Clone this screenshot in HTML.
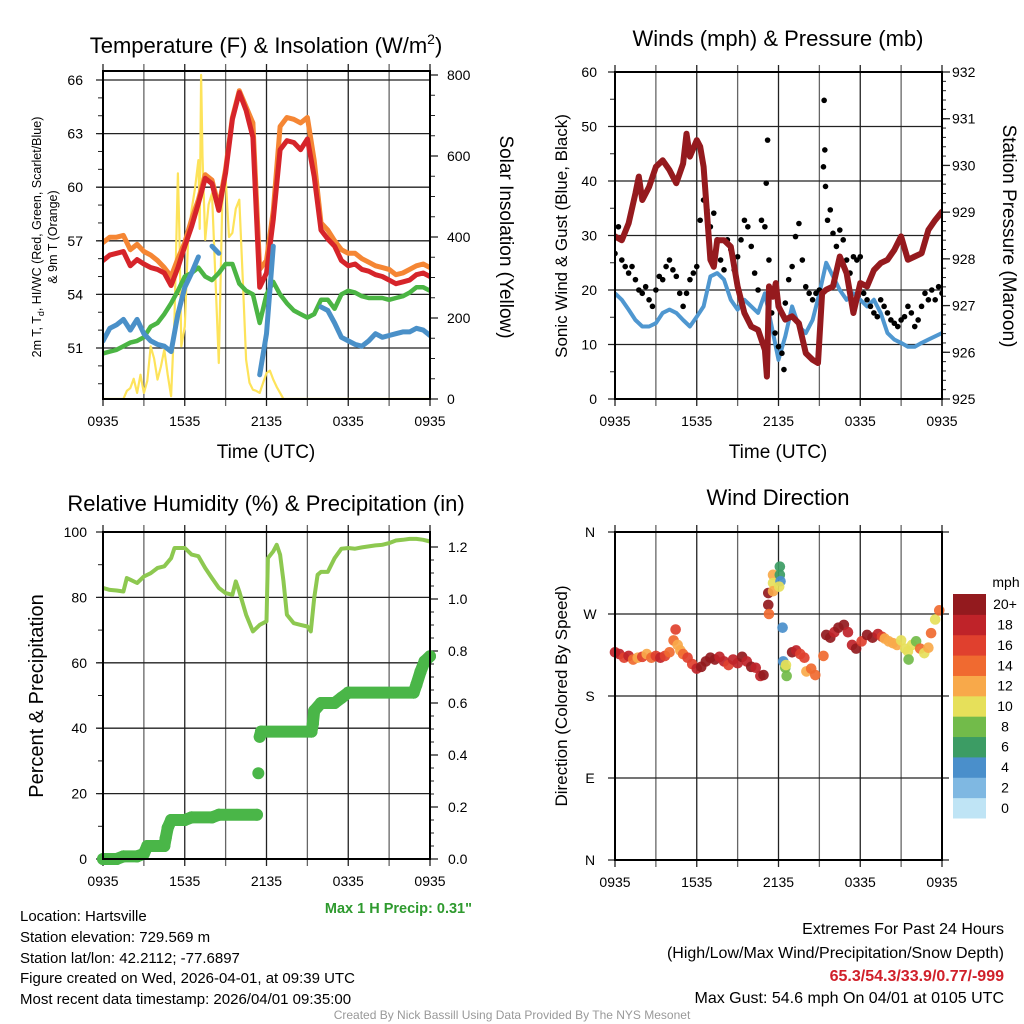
<!DOCTYPE html>
<html><head><meta charset="utf-8"><style>
html,body{margin:0;padding:0;background:#fff}
svg{display:block;font-family:"Liberation Sans",sans-serif}
</style></head><body>
<svg id="fig" width="1024" height="1024" viewBox="0 0 1024 1024" xmlns="http://www.w3.org/2000/svg">
<rect x="0" y="0" width="1024" height="1024" fill="#fff"/>
<text x="266" y="53" font-size="22" text-anchor="middle">Temperature (F) &amp; Insolation (W/m<tspan font-size="14" dy="-9">2</tspan><tspan dy="9">)</tspan></text>
<text x="778" y="46" font-size="22" text-anchor="middle">Winds (mph) &amp; Pressure (mb)</text>
<text x="266" y="511" font-size="22" text-anchor="middle">Relative Humidity (%) &amp; Precipitation (in)</text>
<text x="778" y="505" font-size="22" text-anchor="middle">Wind Direction</text>
<text transform="translate(41,237) rotate(-90)" font-size="12.5" text-anchor="middle">2m T, T<tspan font-size="9" dy="3">d</tspan><tspan dy="-3">, HI/WC (Red, Green, Scarlet/Blue)</tspan></text>
<text transform="translate(57,237) rotate(-90)" font-size="12.5" text-anchor="middle">&amp; 9m T (Orange)</text>
<text transform="translate(500,237) rotate(90)" font-size="19" text-anchor="middle">Solar Insolation (Yellow)</text>
<text x="266" y="458" font-size="19" text-anchor="middle">Time (UTC)</text>
<text x="778" y="458" font-size="19" text-anchor="middle">Time (UTC)</text>
<text transform="translate(567,236) rotate(-90)" font-size="17" text-anchor="middle">Sonic Wind &amp; Gust (Blue, Black)</text>
<text transform="translate(1003,236) rotate(90)" font-size="19" text-anchor="middle">Station Pressure (Maroon)</text>
<text transform="translate(43,696) rotate(-90)" font-size="20" text-anchor="middle">Percent &amp; Precipitation</text>
<text transform="translate(567,696) rotate(-90)" font-size="17" text-anchor="middle">Direction (Colored By Speed)</text>
<text x="472" y="913" font-size="14.5" font-weight="bold" fill="#2e9a2e" text-anchor="end">Max 1 H Precip: 0.31"</text>
<g font-size="15">
<text x="20" y="921">Location: Hartsville</text>
<text x="20" y="942">Station elevation: 729.569 m</text>
<text x="20" y="963">Station lat/lon: 42.2112; -77.6897</text>
<text x="20" y="983">Figure created on Wed, 2026-04-01, at 09:39 UTC</text>
<text x="20" y="1004">Most recent data timestamp: 2026/04/01 09:35:00</text>
</g>
<g font-size="16" text-anchor="end">
<text x="1004" y="934">Extremes For Past 24 Hours</text>
<text x="1004" y="958">(High/Low/Max Wind/Precipitation/Snow Depth)</text>
<text x="1004" y="981" fill="#d0202a" font-weight="bold">65.3/54.3/33.9/0.77/-999</text>
<text x="1004" y="1003">Max Gust: 54.6 mph On 04/01 at 0105 UTC</text>
</g>
<text x="512" y="1019" font-size="12" fill="#999" text-anchor="middle">Created By Nick Bassill Using Data Provided By The NYS Mesonet</text>
</svg>
<script>
// ---------- data ----------
const hours = [0,0.5,1,1.5,2,2.5,3,3.5,4,4.5,5,5.5,6,6.5,7,7.5,8,8.5,9,9.5,10,10.5,11,11.5,12,12.5,13,13.5,14,14.5,15,15.5,16,16.5,17,17.5,18,18.5,19,19.5,20,20.5,21,21.5,22,22.5,23,23.5,24];
const timeTickLabels = ["0935","1535","2135","0335","0935"];
const temp9m = [56.9,57.2,57.2,57.3,56.5,56.8,56.4,56.2,55.9,55.5,55.0,56.0,56.9,58.2,59.3,60.7,60.4,58.9,61.0,63.9,65.4,64.5,63.6,55.4,55.9,58.7,63.4,63.9,63.8,63.6,63.9,61.5,58.0,57.6,57.0,56.5,56.3,56.3,56.0,55.8,55.6,55.5,55.4,55.1,55.2,55.4,55.6,55.7,55.5];
const temp2m = [55.9,56.2,56.3,56.4,55.6,55.95,55.7,55.5,55.4,55.2,54.5,55.5,56.7,57.8,59.1,60.5,60.2,58.7,60.8,63.8,65.3,64.3,62.8,54.4,55.2,58.2,62.1,62.6,62.5,62.1,62.7,60.6,57.6,57.1,56.7,55.9,55.6,55.7,55.4,55.3,55.1,55.0,54.8,54.6,54.7,54.8,55.1,55.2,55.0];
const dewpoint = [50.7,50.8,50.9,51.1,51.3,51.4,51.6,52.2,52.4,52.9,53.5,54.2,55.0,55.2,55.5,55.0,54.8,55.2,55.7,55.7,54.6,54.2,54.0,52.4,54.0,54.7,54.0,53.5,53.1,52.9,52.7,52.9,53.7,53.7,53.2,54.0,54.2,54.1,53.9,53.8,53.8,53.8,53.7,53.8,53.9,54.1,54.4,54.4,54.2];
const heatIndexWC = [51.4,52.1,52.3,52.6,52.0,52.6,51.8,51.4,51.2,51.1,50.8,52.9,54.4,55.2,56.1,null,56.7,56.3,null,null,null,null,null,49.5,51.8,56.7,null,null,null,null,null,null,53.3,53.1,52.4,51.6,51.4,51.2,51.1,51.4,51.8,51.6,51.7,51.8,51.9,51.9,52.1,52.0,51.7];
const solarHours = [0,1.5,1.75,2,2.25,2.5,2.75,3,3.25,3.5,3.75,4,4.25,4.5,4.75,5,5.25,5.5,5.6,5.75,6,6.25,6.5,6.75,7,7.1,7.2,7.3,7.5,7.75,8,8.25,8.5,8.75,9,9.25,9.5,9.75,10,10.25,10.5,10.75,11,11.25,11.5,11.75,12,12.25,12.5,12.75,13,13.25,24];
const solarValues = [0,0,20,27,50,15,60,15,45,130,100,48,80,122,60,7,200,557,420,130,179,400,467,520,590,420,800,600,393,480,508,300,89,480,549,400,410,470,492,300,97,40,23,20,15,40,64,70,48,30,15,0,0];
const windHours = hours;
const windSpeed = [19.4,18.2,16.4,14.5,13.3,13.3,13.9,15.8,16.4,15.8,14.5,13.3,15.1,17.0,22.5,23.1,21.9,18.2,16.4,18.2,17.0,15.8,19.4,13.3,7.2,11.5,17.0,13.3,12.1,14.5,19.4,25.0,22.5,20.0,18.2,19.4,18.2,17.0,18.2,15.8,12.1,10.9,10.3,9.6,9.6,10.3,10.9,11.5,12.1];
const gustHours = [0,0.25,0.5,0.75,1,1.25,1.5,1.75,2,2.25,2.5,2.75,3,3.25,3.5,3.75,4,4.25,4.5,4.75,5,5.25,5.5,5.75,6,6.25,6.5,6.75,7,7.25,7.5,7.75,8,8.25,8.5,8.75,9,9.25,9.5,9.75,10,10.25,10.5,10.75,11,11.1,11.2,11.3,11.5,11.75,12,12.25,12.4,12.5,12.75,13,13.25,13.5,13.75,14,14.25,14.5,14.75,15,15.3,15.35,15.4,15.45,15.6,15.8,16,16.25,16.5,16.75,17,17.25,17.5,17.75,18,18.25,18.5,18.75,19,19.25,19.5,19.75,20,20.25,20.5,20.75,21,21.25,21.5,21.75,22,22.25,22.5,22.75,23,23.25,23.5,23.75,24];
const gustValues = [26.7,31.6,25.5,24.3,23.1,24.3,21.9,20.0,19.4,20.6,18.2,17.0,20.0,22.5,21.9,24.3,25.5,23.7,22.5,19.4,17.0,19.4,21.9,23.1,24.3,32.8,36.5,34.7,31.6,34.1,29.2,25.5,23.7,29.2,27.4,23.7,26.1,29.2,32.8,31.6,28.0,23.1,20.0,32.8,31.6,39.6,47.5,25.5,15.8,12.1,9.6,8.4,5.4,17.6,21.9,24.3,29.8,32.2,25.5,20.6,19.4,18.2,19.4,20.0,42.6,54.8,45.7,39.0,32.8,34.7,30.4,28.0,31.0,29.2,25.5,23.1,26.1,25.5,26.1,19.4,18.2,17.0,15.8,15.1,18.2,17.0,15.8,14.5,13.9,13.3,14.5,15.1,17.0,15.8,13.3,14.5,17.0,19.4,18.2,20.0,18.2,20.6,19.4];
const pressureHours = [0,0.5,1,1.5,1.75,2,2.5,3,3.5,4,4.5,5,5.25,5.5,6,6.25,6.5,7,7.25,7.5,8,8.5,9,9.5,10,10.5,11,11.15,11.3,11.6,11.8,12,12.5,13,13.5,14,14.5,14.9,15.2,15.5,16,16.5,17,17.5,18,18.5,19,19.5,20,20.5,21,21.5,22,22.5,23,23.5,24];
const pressureValues = [928.48,928.40,928.76,929.40,929.76,929.26,929.54,929.97,930.11,929.90,929.62,930.04,930.68,930.19,930.54,930.40,929.97,927.98,927.83,928.40,928.40,928.26,927.41,926.84,926.55,926.48,926.05,925.48,927.41,927.19,927.48,926.98,926.70,926.77,926.62,925.98,925.84,925.77,927.26,927.34,927.41,928.05,927.69,926.84,927.48,927.41,927.76,927.91,927.98,928.19,928.48,927.98,928.05,928.12,928.62,928.83,929.01];
const rhHours = [0,0.5,1,1.5,1.75,2,2.5,3,3.5,4,4.5,5,5.25,5.5,6,6.5,7,7.5,8,8.5,9,9.5,9.75,10,10.5,11,11.5,12,12.1,12.5,12.75,13,13.25,13.5,14,14.5,15,15.25,15.5,15.75,16,16.5,17,17.5,18,18.5,19,19.5,20,20.5,21,21.5,22,22.5,23,23.5,24];
const rhValues = [82.9,82.3,82.1,81.8,85.9,85.4,84.4,86.4,87.4,89.0,89.5,92.0,95.1,95.1,95.1,93.1,92.6,89.0,85.9,82.9,81.3,80.8,84.9,81.8,74.7,69.6,71.6,72.7,92.0,94.1,96.1,93.1,84.9,74.7,72.1,71.6,71.1,69.6,79.8,86.9,87.8,87.8,92.0,94.9,95.1,94.9,95.3,95.6,95.9,96.1,96.6,97.4,97.6,97.9,97.9,97.6,97.1];
const precipHours = [0,1,1.5,2.5,3,3.25,4,4.5,4.6,4.75,5,6,6.5,8,8.5,11.3,11.4,11.5,11.6,15.3,15.4,15.5,16,17,17.5,18,22.8,23,23.3,23.6,24];
const precipValues = [0,0,0.01,0.01,0.02,0.05,0.05,0.05,0.08,0.12,0.15,0.15,0.16,0.16,0.17,0.17,0.33,0.47,0.49,0.49,0.52,0.57,0.60,0.60,0.62,0.64,0.64,0.67,0.72,0.76,0.78];
const dirHours = [0,0.33,0.67,1,1.33,1.67,2,2.33,2.67,3,3.33,3.67,4,4.3,4.45,4.6,4.8,5,5.33,5.67,6,6.33,6.67,7,7.33,7.67,8,8.33,8.67,9,9.33,9.67,10,10.33,10.67,10.9,11.25,11.25,11.3,11.6,11.6,11.6,12.1,12.1,12.15,12.05,12.3,12.35,12.5,12.6,12.55,13,13.3,13.6,13.9,14.05,14.4,14.7,15.3,15.5,15.8,16.1,16.4,16.8,17.1,17.4,17.7,18.1,18.5,18.9,19.3,19.6,19.8,20.1,20.4,20.7,21,21.3,21.5,21.55,21.8,22.1,22.4,22.7,23,23.2,23.5,23.8];
const dirValues = [228,226,222,224,220,222,223,226,222,224,222,224,228,241,253,236,230,226,222,215,210,212,218,222,220,223,218,214,220,216,223,218,212,211,202,203,293,280,270,313,304,295,322,313,306,300,255,218,211,202,214,228,230,226,222,207,210,203,224,247,244,250,255,258,250,236,232,240,247,244,248,245,243,240,238,236,241,232,229,220,236,240,232,227,233,249,264,274];
const dirSpeeds = [18,18,17,18,14,12,16,12,14,16,18,16,14,14,16,12,12,14,16,16,18,20,20,20,20,18,18,16,18,18,20,18,20,18,18,20,20,20,14,12,10,12,6,6,4,10,4,4,8,8,10,20,18,16,16,12,14,14,14,20,20,18,20,20,18,18,20,16,20,20,18,16,12,12,12,12,10,10,10,8,10,8,14,10,12,14,10,14];
const speedBinLabels = ["0","2","4","6","8","10","12","14","16","18","20+"];
const speedBinColors = ["#bfe4f5","#7fb8e2","#4a8fcb","#3c9c64","#72bb4a","#e6e05a","#f8a94a","#f06a30","#e0402e","#bf2329","#931a1e"];
const tempTicks = [51,54,57,60,63,66];
const solarTicks = [0,200,400,600,800];
const windTicks = [0,10,20,30,40,50,60];
const pressureTicks = [925,926,927,928,929,930,931,932];
const rhTicks = [0,20,40,60,80,100];
const precipTicks = [0,0.2,0.4,0.6,0.8,1.0,1.2];
const dirTicks = [0,90,180,270,360];
const dirTickLabels = ["N","E","S","W","N"];

// ---------- helpers ----------
const NS = "http://www.w3.org/2000/svg";
const svg = document.getElementById("fig");
function mk(tag, attrs, parent, name) {
  const el = document.createElementNS(NS, tag);
  for (const k in attrs) el.setAttribute(k, attrs[k]);
  
  
  (parent || svg).appendChild(el);
  return el;
}
function lin(d0, d1, r0, r1) { return v => r0 + (v - d0) * (r1 - r0) / (d1 - d0); }
function pathFrom(xs, ys, fx, fy) {
  let d = "", pen = false;
  for (let i = 0; i < xs.length; i++) {
    if (ys[i] === null) { pen = false; continue; }
    d += (pen ? "L" : "M") + fx(xs[i]).toFixed(1) + "," + fy(ys[i]).toFixed(1);
    pen = true;
  }
  return d;
}
function frame(L, T, R, B, fx, name, extendTop) {
  const g = mk("g", {}, svg, name + "-grid");
  for (let h = 0; h <= 24; h += 3) {
    const x = fx(h);
    mk("line", {x1:x, y1:T - extendTop, x2:x, y2:B + 7, stroke: (h % 6 === 0) ? "#222" : "#666", "stroke-width":1.3}, g, "vertical-gridline");
  }
  timeTickLabels.forEach((lab, i) => {
    mk("text", {x: fx(i * 6), y: B + 27, "font-size":14, "text-anchor":"middle"}, g, "x-tick-label").textContent = lab;
  });
  return g;
}
function hGrid(g, ticks, fy, L, R, dark, labels, lx, anchor) {
  ticks.forEach((v, i) => {
    const y = fy(v);
    mk("line", {x1:L - 7, y1:y, x2:R, y2:y, stroke: dark ? "#222" : "#666", "stroke-width":1.3}, g, "horizontal-gridline");
    mk("text", {x: lx, y: y + 5, "font-size":14, "text-anchor":anchor}, g, "y-tick-label").textContent = labels ? labels[i] : v;
  });
}
function tickSet(g, x, dir, from, to, step, fy, len) {
  for (let v = from; v <= to + 1e-9; v += step) {
    const y = fy(v);
    mk("line", {x1:x, y1:y, x2:x + dir * len, y2:y, stroke:"#222", "stroke-width":1}, g, "axis-tick");
  }
}
function border(g, L, T, R, B) {
  mk("rect", {x:L, y:T, width:R - L, height:B - T, fill:"none", stroke:"#000", "stroke-width":2}, g, "plot-frame");
}

// ---------- Panel 1: temperature & solar ----------
{
  const L = 103, R = 430, T = 71, B = 399;
  const fx = lin(0, 24, L, R);
  const fy = lin(66, 51, 80, 348);
  const fs = lin(0, 800, 399, 75);
  const g = frame(L, T, R, B, fx, "temperature-panel", 7);
  hGrid(g, tempTicks, fy, L, R, true, null, 83, "end");
  tickSet(g, L, -1, 49, 66, 1, fy, 5);
  solarTicks.forEach(v => {
    mk("line", {x1:R, y1:fs(v), x2:R + 8, y2:fs(v), stroke:"#222", "stroke-width":1.3}, g, "solar-tick");
    mk("text", {x: R + 17, y: fs(v) + 5, "font-size":14}, g, "solar-tick-label").textContent = v;
  });
  tickSet(g, R, 1, 0, 800, 50, fs, 5);
  const cp = mk("clipPath", {id:"c1"}, svg, "temperature-clip");
  mk("rect", {x:L, y:T, width:R - L, height:B - T}, cp, "clip-rect");
  const dg = mk("g", {"clip-path":"url(#c1)"}, svg, "temperature-series");
  mk("path", {d: pathFrom(solarHours, solarValues, fx, fs), fill:"none", stroke:"#fde35a", "stroke-width":2.2, "stroke-linejoin":"round"}, dg, "solar-insolation-line");
  mk("path", {d: pathFrom(hours, temp9m, fx, fy), fill:"none", stroke:"#f58634", "stroke-width":5, "stroke-linejoin":"round", "stroke-linecap":"round"}, dg, "temp-9m-line");
  mk("path", {d: pathFrom(hours, temp2m, fx, fy), fill:"none", stroke:"#d6242a", "stroke-width":5, "stroke-linejoin":"round", "stroke-linecap":"round"}, dg, "temp-2m-line");
  mk("path", {d: pathFrom(hours, dewpoint, fx, fy), fill:"none", stroke:"#4bb544", "stroke-width":4.5, "stroke-linejoin":"round", "stroke-linecap":"round"}, dg, "dewpoint-line");
  mk("path", {d: pathFrom(hours, heatIndexWC, fx, fy), fill:"none", stroke:"#4a90c8", "stroke-width":5, "stroke-linejoin":"round", "stroke-linecap":"round"}, dg, "heat-index-windchill-line");
  border(svg, L, T, R, B);
}

// ---------- Panel 2: winds & pressure ----------
{
  const L = 615, R = 942, T = 72, B = 399;
  const fx = lin(0, 24, L, R);
  const fy = lin(0, 60, 399, 72);
  const fp = lin(925, 932, 399, 72);
  const g = frame(L, T, R, B, fx, "wind-panel", 7);
  hGrid(g, windTicks, fy, L, R, true, null, 597, "end");
  tickSet(g, L, -1, 0, 60, 5, fy, 5);
  pressureTicks.forEach(v => {
    mk("line", {x1:R, y1:fp(v), x2:R + 8, y2:fp(v), stroke:"#222", "stroke-width":1.3}, g, "pressure-tick");
    mk("text", {x: R + 10, y: fp(v) + 5, "font-size":14}, g, "pressure-tick-label").textContent = v;
  });
  tickSet(g, R, 1, 925, 932, 0.2, fp, 4);
  const cp = mk("clipPath", {id:"c2"}, svg, "wind-clip");
  mk("rect", {x:L, y:T, width:R - L, height:B - T}, cp, "clip-rect");
  const dg = mk("g", {"clip-path":"url(#c2)"}, svg, "wind-series");
  mk("path", {d: pathFrom(windHours, windSpeed, fx, fy), fill:"none", stroke:"#4f97d0", "stroke-width":4, "stroke-linejoin":"round"}, dg, "sustained-wind-line");
  gustHours.forEach((h, i) => {
    mk("circle", {cx: fx(h), cy: fy(gustValues[i]), r: 2.8, fill:"#000"}, dg, "gust-point");
  });
  mk("path", {d: pathFrom(pressureHours, pressureValues, fx, fp), fill:"none", stroke:"#951a1e", "stroke-width":6, "stroke-linejoin":"round", "stroke-linecap":"round"}, dg, "pressure-line");
  border(svg, L, T, R, B);
}

// ---------- Panel 3: RH & precip ----------
{
  const L = 103, R = 430, T = 532, B = 859;
  const fx = lin(0, 24, L, R);
  const fy = lin(0, 100, 859, 532);
  const fp = lin(0, 1.2, 859, 547);
  const g = frame(L, T, R, B, fx, "rh-panel", 7);
  hGrid(g, rhTicks, fy, L, R, true, null, 87, "end");
  tickSet(g, L, -1, 0, 100, 10, fy, 5);
  precipTicks.forEach(v => {
    mk("line", {x1:R, y1:fp(v), x2:R + 8, y2:fp(v), stroke:"#222", "stroke-width":1.3}, g, "precip-tick");
    mk("text", {x: R + 18, y: fp(v) + 5, "font-size":14}, g, "precip-tick-label").textContent = v.toFixed(1);
  });
  tickSet(g, R, 1, 0, 1.2, 0.05, fp, 4);
  const dg = mk("g", {}, svg, "rh-series");
  mk("path", {d: pathFrom(rhHours, rhValues, fx, fy), fill:"none", stroke:"#8dc850", "stroke-width":4, "stroke-linejoin":"round"}, dg, "relative-humidity-line");
  const pg = mk("g", {}, dg, "precip-series");
  precipHours.forEach((h, i) => {
    if (i > 0 && i !== 16 && i !== 17) {
      mk("line", {x1: fx(precipHours[i-1]), y1: fp(precipValues[i-1]), x2: fx(h), y2: fp(precipValues[i]), stroke:"#4ab648", "stroke-width":12, "stroke-linecap":"round"}, pg, "precip-segment");
    }
    mk("circle", {cx: fx(h), cy: fp(precipValues[i]), r: 6, fill:"#4ab648"}, pg, "precip-point");
  });
  border(svg, L, T, R, B);
}

// ---------- Panel 4: wind direction ----------
{
  const L = 615, R = 942, T = 532, B = 860;
  const fx = lin(0, 24, L, R);
  const fy = lin(0, 360, 860, 532);
  const g = frame(L, T, R, B, fx, "direction-panel", 7);
  hGrid(g, dirTicks, fy, L, R + 7, true, dirTickLabels, 590, "middle");
  const dg = mk("g", {}, svg, "direction-series");
  dirHours.forEach((h, i) => {
    const bin = Math.min(10, Math.floor(dirSpeeds[i] / 2));
    mk("circle", {cx: fx(h), cy: fy(dirValues[i]), r: 5.3, fill: speedBinColors[bin], "fill-opacity":0.92}, dg, "direction-point");
  });
  border(svg, L, T, R, B);
  const cb = mk("g", {}, svg, "speed-colorbar");
  const cbTop = 594, cbH = 224 / 11;
  speedBinLabels.forEach((lab, i) => {
    const j = 10 - i;
    mk("rect", {x: 953, y: cbTop + j * cbH, width: 33, height: cbH + 0.5, fill: speedBinColors[i]}, cb, "colorbar-swatch");
    mk("text", {x: 1005, y: cbTop + j * cbH + cbH / 2 + 5, "font-size":14, "text-anchor":"middle"}, cb, "colorbar-label").textContent = lab;
  });
  mk("text", {x: 1006, y: 587, "font-size":14, "text-anchor":"middle"}, cb, "colorbar-unit").textContent = "mph";
}
</script>
</body></html>
